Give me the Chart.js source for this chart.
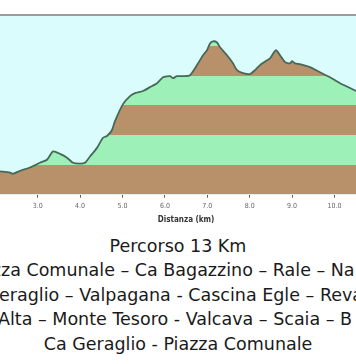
<!DOCTYPE html>
<html lang="it">
<head>
<meta charset="UTF-8">
<title>Percorso 13 Km</title>
<style>
    html, body {
        margin: 0;
        padding: 0;
        background: #fff;
        width: 356px;
        height: 364px;
        overflow: hidden;
    }
    #grafico {
        position: relative;
        width: 356px;
        height: 234px;
    }
    #testo {
        width: 356px;
        overflow: hidden;
        white-space: nowrap;
        font-family: "DejaVu Sans", sans-serif;
        font-size: 17.5px;
        line-height: 24.4px;
        color: #1a1a1a;
    }
    .centro { text-align: center; }
</style>
</head>
<body>
<div id="grafico"><canvas id="profilo"></canvas></div>
<div id="testo">
    <div class="centro">Percorso 13 Km</div>
    <div style="margin-left:-34px">Piazza Comunale – Ca Bagazzino – Rale – Na</div>
    <div style="margin-left:-43px">Ca Geraglio – Valpagana - Cascina Egle – Reva</div>
    <div style="margin-left:-2px">Alta – Monte Tesoro - Valcava – Scaia – B</div>
    <div class="centro">Ca Geraglio - Piazza Comunale</div>
</div>

<script src="https://cdn.jsdelivr.net/npm/chart.js"></script>
<script>
var distanzaKm = [2.111, 2.347, 2.417, 2.583, 2.818, 3.054, 3.219, 3.361, 3.526, 3.691,
    3.833, 3.998, 4.116, 4.233, 4.399, 4.540, 4.634, 4.752, 4.823, 5.012,
    5.177, 5.295, 5.483, 5.649, 5.814, 5.955, 6.120, 6.191, 6.285, 6.427,
    6.592, 6.757, 6.899, 6.993, 7.064, 7.134, 7.229, 7.300, 7.465, 7.606,
    7.700, 7.842, 8.007, 8.125, 8.243, 8.408, 8.479, 8.620, 8.715, 8.833,
    8.950, 8.998, 9.069, 9.186, 9.422, 9.658, 9.894, 10.130, 10.366, 10.507];
var quotaM = [278, 274, 270, 280, 291, 307, 317, 345, 337, 324,
    307, 304, 307, 328, 357, 391, 397, 417, 447, 504,
    531, 541, 548, 561, 574, 594, 598, 591, 598, 598,
    601, 635, 668, 685, 708, 715, 711, 695, 668, 641,
    618, 608, 605, 618, 635, 651, 658, 685, 668, 645,
    641, 648, 641, 638, 628, 611, 594, 574, 558, 548];

var tickKm = [3, 4, 5, 6, 7, 8, 9, 10];
var fasceQuota = [200, 300, 400, 500, 600, 700, 800];
var centroPercorsoKm = 6.5;

var coloreMarrone = '#b8916a';
var coloreVerde = '#9ef0b9';
var coloreCielo = '#dafcfc';

function riempimentoFasce(context) {
    var chart = context.chart;
    var area = chart.chartArea;
    if (!area) return coloreVerde;
    var y = chart.scales.y;
    var y0 = y.getPixelForValue(fasceQuota[0]);
    var y1 = y.getPixelForValue(fasceQuota[fasceQuota.length - 1]);
    var g = chart.ctx.createLinearGradient(0, y0, 0, y1);
    var tot = fasceQuota[fasceQuota.length - 1] - fasceQuota[0];
    for (var i = 0; i < fasceQuota.length - 1; i++) {
        var col = i % 2 === 0 ? coloreMarrone : coloreVerde;
        g.addColorStop((fasceQuota[i] - fasceQuota[0]) / tot, col);
        g.addColorStop((fasceQuota[i + 1] - fasceQuota[0]) / tot, col);
    }
    return g;
}

var sfondo = {
    id: 'sfondo',
    beforeDatasetsDraw: function(chart) {
        var c = chart.ctx, a = chart.chartArea;
        c.save();
        c.fillStyle = coloreCielo;
        c.fillRect(a.left, a.top, a.right - a.left, a.bottom - a.top);
        c.fillStyle = '#9c9c9c';
        c.fillRect(a.left, a.top - 2, a.right - a.left, 2);
        c.restore();
    },
    afterDraw: function(chart) {
        var c = chart.ctx;
        var x = chart.scales.x.getPixelForValue(centroPercorsoKm);
        c.save();
        c.font = 'bold 8px "DejaVu Sans Condensed", sans-serif';
        c.fillStyle = '#333';
        c.textAlign = 'center';
        c.textBaseline = 'middle';
        c.fillText('Distanza (km)', x, 220);
        c.restore();
    }
};

var punti = distanzaKm.map(function(d, i) { return { x: d, y: quotaM[i] }; });

new Chart(document.getElementById('profilo'), {
    type: 'line',
    data: {
        datasets: [{
            data: punti,
            borderColor: '#456858',
            borderWidth: 1.8,
            pointRadius: 0,
            tension: 0.2,
            fill: 'start',
            backgroundColor: riempimentoFasce
        }]
    },
    options: {
        responsive: true,
        maintainAspectRatio: false,
        animation: false,
        layout: { padding: { top: 16, left: 0, right: 0, bottom: 20 } },
        plugins: { legend: { display: false }, tooltip: { enabled: false } },
        scales: {
            x: {
                type: 'linear',
                min: distanzaKm[0],
                max: distanzaKm[distanzaKm.length - 1],
                afterBuildTicks: function(scale) {
                    scale.ticks = tickKm.map(function(v) { return { value: v }; });
                },
                grid: { display: true, drawOnChartArea: false, drawTicks: true, tickLength: 3, color: '#555' },
                border: { display: false },
                ticks: {
                    padding: 4,
                    maxRotation: 0,
                    color: '#666',
                    font: { family: '"DejaVu Sans Condensed", sans-serif', size: 7 },
                    callback: function(v) { return Number(v).toFixed(1); }
                }
            },
            y: {
                display: false,
                min: fasceQuota[0],
                max: fasceQuota[fasceQuota.length - 1]
            }
        }
    },
    plugins: [sfondo]
});
</script>
</body>
</html>
